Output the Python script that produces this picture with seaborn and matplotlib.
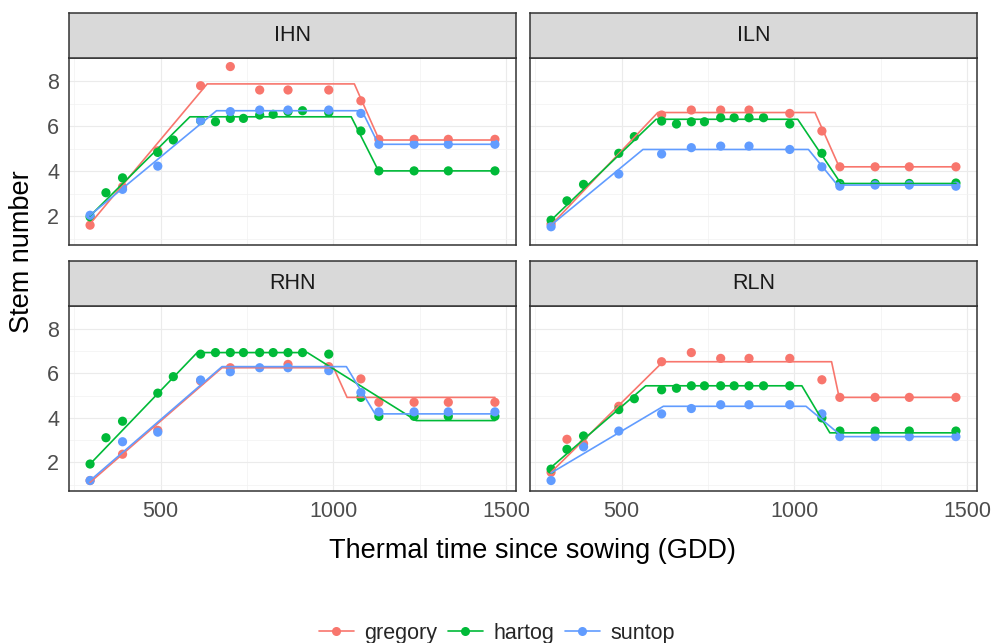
import numpy as np
import pandas as pd
import seaborn as sns
import matplotlib.pyplot as plt
from matplotlib.lines import Line2D

nan = np.nan

# Panels and cultivars
panels = ["IHN", "ILN", "RHN", "RLN"]
cultivars = ["gregory", "hartog", "suntop"]
colors = ["#F8766D", "#00BA38", "#619CFF"]

# Observation times (GDD)
obs_times = [296, 342, 390, 492, 537, 616, 659, 702, 740, 787, 826, 869, 911, 987, 1080, 1132, 1234, 1333, 1468]

# Observed stem numbers (nan = not sampled)
ihn_gregory = [1.6, nan, 3.3, 4.9, nan, 7.79, nan, 8.64, nan, 7.6, nan, 7.6, nan, 7.6, 7.12, 5.41, 5.41, 5.41, 5.41]
ihn_hartog = [1.97, 3.04, 3.70, 4.83, 5.38, 6.24, 6.19, 6.34, 6.34, 6.49, 6.52, 6.64, 6.68, 6.6, 5.78, 4.01, 4.01, 4.01, 4.01]
ihn_suntop = [2.04, nan, 3.19, 4.22, nan, 6.24, nan, 6.64, nan, 6.71, nan, 6.71, nan, 6.71, 6.56, 5.19, 5.19, 5.19, 5.19]

iln_gregory = [1.65, nan, nan, nan, nan, 6.49, nan, 6.71, nan, 6.71, nan, 6.71, nan, 6.56, 5.78, 4.19, 4.19, 4.19, 4.19]
iln_hartog = [1.82, 2.68, 3.41, 4.79, 5.53, 6.22, 6.09, 6.19, 6.19, 6.37, 6.37, 6.37, 6.37, 6.09, 4.79, 3.45, 3.45, 3.45, 3.47]
iln_suntop = [1.53, nan, nan, 3.87, nan, 4.76, nan, 5.04, nan, 5.11, nan, 5.11, nan, 4.96, 4.19, 3.33, 3.38, 3.38, 3.33]

rhn_gregory = [1.19, nan, 2.37, 3.44, nan, 5.66, nan, 6.25, nan, nan, nan, 6.4, nan, 6.3, 5.75, 4.70, 4.70, 4.70, 4.70]
rhn_hartog = [1.93, 3.11, 3.85, 5.11, 5.85, 6.86, 6.93, 6.93, 6.93, 6.93, 6.93, 6.93, 6.93, 6.86, 4.92, 4.07, 4.07, 4.07, 4.07]
rhn_suntop = [1.19, nan, 2.93, 3.36, nan, 5.7, nan, 6.07, nan, 6.25, nan, 6.25, nan, 6.12, 5.14, 4.27, 4.27, 4.27, 4.27]

rln_gregory = [1.56, 3.04, 2.84, 4.52, nan, 6.52, nan, 6.93, nan, 6.67, nan, 6.67, nan, 6.67, 5.71, 4.92, 4.92, 4.92, 4.92]
rln_hartog = [1.7, 2.59, 3.19, 4.37, 4.86, 5.26, 5.33, 5.44, 5.44, 5.44, 5.44, 5.44, 5.44, 5.44, 4.0, 3.41, 3.41, 3.41, 3.41]
rln_suntop = [1.19, nan, 2.7, 3.41, nan, 4.18, nan, 4.42, nan, 4.59, nan, 4.59, nan, 4.59, 4.18, 3.16, 3.16, 3.16, 3.16]

# Fitted broken-stick lines (vertices)
ihn_gregory_fit_x = [296, 635, 1061, 1133, 1468]
ihn_gregory_fit_y = [1.66, 7.87, 7.87, 5.38, 5.38]
ihn_hartog_fit_x = [296, 585, 1052, 1131, 1468]
ihn_hartog_fit_y = [2.01, 6.41, 6.41, 4.01, 4.01]
ihn_suntop_fit_x = [296, 662, 1083, 1131, 1468]
ihn_suntop_fit_y = [2.04, 6.68, 6.68, 5.19, 5.19]

iln_gregory_fit_x = [296, 605, 1060, 1130, 1468]
iln_gregory_fit_y = [1.6, 6.6, 6.6, 4.19, 4.19]
iln_hartog_fit_x = [296, 600, 1010, 1135, 1468]
iln_hartog_fit_y = [1.82, 6.3, 6.3, 3.45, 3.45]
iln_suntop_fit_x = [296, 562, 1041, 1125, 1468]
iln_suntop_fit_y = [1.6, 4.96, 4.96, 3.38, 3.38]

rhn_gregory_fit_x = [296, 678, 1001, 1040, 1468]
rhn_gregory_fit_y = [1.11, 6.25, 6.25, 4.92, 4.92]
rhn_hartog_fit_x = [296, 606, 925, 1240, 1468]
rhn_hartog_fit_y = [1.93, 6.93, 6.93, 3.88, 3.88]
rhn_suntop_fit_x = [296, 678, 1038, 1121, 1468]
rhn_suntop_fit_y = [1.19, 6.3, 6.3, 4.18, 4.18]

rln_gregory_fit_x = [296, 620, 1108, 1130, 1468]
rln_gregory_fit_y = [1.56, 6.52, 6.52, 4.92, 4.92]
rln_hartog_fit_x = [296, 570, 1022, 1103, 1468]
rln_hartog_fit_y = [1.78, 5.44, 5.44, 3.33, 3.33]
rln_suntop_fit_x = [296, 621, 1034, 1139, 1468]
rln_suntop_fit_y = [1.53, 4.52, 4.52, 3.16, 3.16]

# Build long tables
obs_series = {
    "IHN": [ihn_gregory, ihn_hartog, ihn_suntop],
    "ILN": [iln_gregory, iln_hartog, iln_suntop],
    "RHN": [rhn_gregory, rhn_hartog, rhn_suntop],
    "RLN": [rln_gregory, rln_hartog, rln_suntop],
}
fit_series = {
    "IHN": [(ihn_gregory_fit_x, ihn_gregory_fit_y), (ihn_hartog_fit_x, ihn_hartog_fit_y), (ihn_suntop_fit_x, ihn_suntop_fit_y)],
    "ILN": [(iln_gregory_fit_x, iln_gregory_fit_y), (iln_hartog_fit_x, iln_hartog_fit_y), (iln_suntop_fit_x, iln_suntop_fit_y)],
    "RHN": [(rhn_gregory_fit_x, rhn_gregory_fit_y), (rhn_hartog_fit_x, rhn_hartog_fit_y), (rhn_suntop_fit_x, rhn_suntop_fit_y)],
    "RLN": [(rln_gregory_fit_x, rln_gregory_fit_y), (rln_hartog_fit_x, rln_hartog_fit_y), (rln_suntop_fit_x, rln_suntop_fit_y)],
}

obs_rows, fit_rows = [], []
for p in panels:
    for cv, ys in zip(cultivars, obs_series[p]):
        for t, v in zip(obs_times, ys):
            if not np.isnan(v):
                obs_rows.append((p, cv, t, v))
    for cv, (fx, fy) in zip(cultivars, fit_series[p]):
        for t, v in zip(fx, fy):
            fit_rows.append((p, cv, t, v))
obs = pd.DataFrame(obs_rows, columns=["trt", "cultivar", "tt", "stems"])
fit = pd.DataFrame(fit_rows, columns=["trt", "cultivar", "tt", "stems"])

palette = dict(zip(cultivars, colors))

sns.set_style("white")
plt.rcParams["font.family"] = ["Liberation Sans", "DejaVu Sans"]

W, H = 991, 643
fig = plt.figure(figsize=(W / 100, H / 100), dpi=100)

# panel boxes in pixels: (left, top, right, bottom)
boxes = {
    "IHN": (69, 58, 516, 245),
    "ILN": (530, 58, 977, 245),
    "RHN": (69, 306, 516, 491),
    "RLN": (530, 306, 977, 491),
}
strip_h = 45
border = "#333333"

for i, p in enumerate(panels):
    l, t, r, b = boxes[p]
    ax = fig.add_axes([l / W, 1 - b / H, (r - l) / W, (b - t) / H])
    sax = fig.add_axes([l / W, 1 - t / H, (r - l) / W, strip_h / H])

    sns.scatterplot(data=obs[obs.trt == p], x="tt", y="stems", hue="cultivar",
                    hue_order=cultivars, palette=palette, s=44, linewidth=0,
                    legend=False, ax=ax, zorder=3)
    sns.lineplot(data=fit[fit.trt == p], x="tt", y="stems", hue="cultivar",
                 hue_order=cultivars, palette=palette, estimator=None, lw=1.2,
                 legend=False, ax=ax, zorder=4)

    ax.set_xlim(235, 1529)
    ax.set_ylim(0.72, 9.02)
    ax.set_xticks([500, 1000, 1500])
    ax.set_xticks([250, 750, 1250], minor=True)
    ax.set_yticks([2, 4, 6, 8])
    ax.set_yticks([1, 3, 5, 7, 9], minor=True)
    ax.grid(which="major", color="#EBEBEB", lw=0.85)
    ax.grid(which="minor", color="#F2F2F2", lw=0.5)
    ax.set_axisbelow(True)
    ax.set_xlabel("")
    ax.set_ylabel("")
    for sp in ax.spines.values():
        sp.set_color(border)
        sp.set_linewidth(1.1)
    ax.tick_params(which="major", length=4, width=1, color=border,
                   labelcolor="#4D4D4D", labelsize=15.5, pad=3)
    ax.tick_params(which="minor", length=0)
    if i < 2:
        ax.tick_params(axis="x", which="major", length=0, labelbottom=False)
    if i % 2 == 1:
        ax.tick_params(axis="y", which="major", length=0, labelleft=False)

    sax.set_facecolor("#D9D9D9")
    sax.set_xticks([])
    sax.set_yticks([])
    for sp in sax.spines.values():
        sp.set_color(border)
        sp.set_linewidth(1.1)
    sax.text(0.5, 0.5, p, ha="center", va="center", fontsize=15.5,
             color="#1A1A1A", transform=sax.transAxes)

fig.text(22 / W, 1 - 252 / H, "Stem number", rotation=90, ha="center",
         va="center", fontsize=19.5, color="black")
fig.text(532 / W, 1 - 551 / H, "Thermal time since sowing (GDD)", ha="center",
         va="center", fontsize=19.5, color="black")

handles = [Line2D([0], [0], color=c, lw=1.2, marker="o", markersize=6.5,
                  markeredgewidth=0) for c in colors]
fig.legend(handles, cultivars, loc="center", bbox_to_anchor=(497 / W, 1 - 633 / H),
           ncol=3, frameon=False, fontsize=15.5, handlelength=1.6,
           handletextpad=0.5, columnspacing=0.5, borderaxespad=0, borderpad=0)

fig.savefig("out.png", dpi=100)
